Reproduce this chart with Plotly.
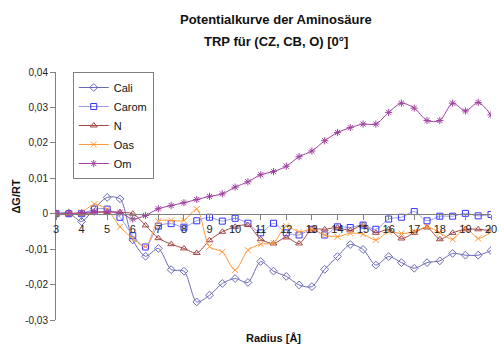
import plotly.graph_objects as go

# Radius values (Å) at 0.5 Å steps
radius = [3, 3.5, 4, 4.5, 5, 5.5, 6, 6.5, 7, 7.5, 8, 8.5, 9, 9.5, 10, 10.5, 11, 11.5,
          12, 12.5, 13, 13.5, 14, 14.5, 15, 15.5, 16, 16.5, 17, 17.5, 18, 18.5, 19, 19.5, 20]

cali = [0, 0.0002, -0.0022, 0.0015, 0.0046, 0.0042, -0.0074, -0.012, -0.0098, -0.0158,
        -0.0162, -0.0249, -0.023, -0.0197, -0.0183, -0.0194, -0.0135, -0.0162, -0.0177,
        -0.0201, -0.0206, -0.0157, -0.0121, -0.0087, -0.0101, -0.0145, -0.0121, -0.0138,
        -0.0154, -0.0138, -0.0133, -0.0112, -0.0117, -0.0117, -0.0104]
carom = [0, 0, 0, 0.0013, 0.0013, -0.001, -0.0062, -0.0094, -0.0035, -0.0028, -0.0038,
         -0.002, -0.001, -0.0021, -0.0013, -0.0027, -0.0054, -0.0027, -0.0054, -0.006,
         -0.0044, -0.006, -0.0037, -0.0039, -0.0032, -0.0044, -0.0015, -0.001, 0.0006,
         -0.002, -0.0007, -0.0007, 0.0001, -0.0006, -0.0002]
n_vals = [0, 0, 0, 0.0003, 0.0005, 0.0004, 0, -0.0033, -0.0069, -0.0086, -0.0098, -0.0111,
          -0.0075, -0.0051, -0.0037, -0.0032, -0.0072, -0.0084, -0.0067, -0.0084, -0.0044,
          -0.0044, -0.0039, -0.0047, -0.0032, -0.0054, -0.0044, -0.007, -0.0054, -0.0039,
          -0.0072, -0.0054, -0.0044, -0.0044, -0.0048]
oas = [0, 0.0001, 0.0004, 0.0027, 0.0012, -0.0037, -0.007, -0.0093, -0.0021, -0.0019,
       -0.0019, 0.0013, -0.0093, -0.0108, -0.0159, -0.0103, -0.0086, -0.0082, -0.0035,
       -0.0051, -0.0044, -0.006, -0.0065, -0.0055, -0.0058, -0.0074, -0.0051, -0.0056,
       -0.0051, -0.0037, -0.0054, -0.0072, -0.0039, -0.007, -0.0051]
om = [0, 0, 0.0003, 0.0005, 0.0005, 0.0003, -0.0015, -0.0005, 0.0014, 0.0023, 0.0031,
      0.004, 0.0049, 0.0056, 0.0075, 0.009, 0.011, 0.0119, 0.0134, 0.0161, 0.0177, 0.0206,
      0.0229, 0.0243, 0.0253, 0.0253, 0.0286, 0.0312, 0.0298, 0.0263, 0.0263, 0.0312,
      0.029, 0.0314, 0.0279]

x_ticks = [3, 4, 5, 6, 7, 8, 9, 10, 11, 12, 13, 14, 15, 16, 17, 18, 19, 20]
y_ticks = [-0.03, -0.02, -0.01, 0, 0.01, 0.02, 0.03, 0.04]
y_ticktext = ["-0,03", "-0,02", "-0,01", "0", "0,01", "0,02", "0,03", "0,04"]

series = [
    ("Cali", cali, "diamond-open", "#6A6AB8", "#6A6AB8"),
    ("Carom", carom, "square-open", "#9A9AE6", "#3333FF"),
    ("N", n_vals, "triangle-up-open", "#A34848", "#A34848"),
    ("Oas", oas, "x-thin-open", "#FF9A3C", "#FF9A3C"),
    ("Om", om, "asterisk-open", "#A040A0", "#A040A0"),
]

FONT = "Liberation Sans, Arial, sans-serif"

fig = go.Figure()
for name, vals, sym, lc, mc in series:
    fig.add_trace(go.Scatter(
        x=radius, y=vals, name=name, mode="lines+markers",
        line=dict(color=lc, width=1, shape="spline", smoothing=0.8),
        marker=dict(symbol=sym, size=6, color=mc, line=dict(color=mc, width=1)),
    ))

fig.update_layout(
    width=504, height=349,
    margin=dict(l=56, r=7, t=72, b=29),
    paper_bgcolor="white", plot_bgcolor="white",
    font=dict(family=FONT, size=10, color="#222222"),
    showlegend=True,
    legend=dict(
        x=0.0385, y=1.0, xanchor="left", yanchor="top",
        bgcolor="white", bordercolor="#808080", borderwidth=1,
        font=dict(family=FONT, size=11, color="#111111"),
        itemwidth=30,
    ),
    xaxis=dict(
        range=[3, 20], tickvals=x_ticks, ticktext=[str(t) for t in x_ticks],
        showgrid=False, zeroline=False, showline=True, linecolor="#808080", linewidth=1,
        ticks="outside", ticklen=5, tickcolor="#808080",
        anchor="free", position=3 / 7,
        tickfont=dict(family=FONT, size=11, color="#222222"),
    ),
    yaxis=dict(
        range=[-0.03, 0.04], tickvals=y_ticks, ticktext=y_ticktext,
        showgrid=False, zeroline=False, showline=True, linecolor="#808080", linewidth=1,
        ticks="outside", ticklen=5, tickcolor="#808080",
        tickfont=dict(family=FONT, size=10, color="#222222"),
    ),
    annotations=[
        dict(text="<b>Potentialkurve der Aminosäure</b>", xref="paper", yref="paper",
             x=0.505, y=1 + (72 - 20) / 248, xanchor="center", yanchor="middle",
             showarrow=False, font=dict(family=FONT, size=13, color="#111111")),
        dict(text="<b>TRP für (CZ, CB, O) [0°]</b>", xref="paper", yref="paper",
             x=0.505, y=1 + (72 - 41) / 248, xanchor="center", yanchor="middle",
             showarrow=False, font=dict(family=FONT, size=13, color="#111111")),
        dict(text="<b>Radius [Å]</b>", xref="paper", yref="paper",
             x=0.5, y=-(338 - 320) / 248, xanchor="center", yanchor="middle",
             showarrow=False, font=dict(family=FONT, size=11, color="#111111")),
        dict(text="<b>ΔG/RT</b>", xref="paper", yref="paper", textangle=-90,
             x=(15 - 56) / 441, y=(320 - 197) / 248, xanchor="center", yanchor="middle",
             showarrow=False, font=dict(family=FONT, size=11, color="#111111")),
    ],
)

fig.write_html("out.html")
